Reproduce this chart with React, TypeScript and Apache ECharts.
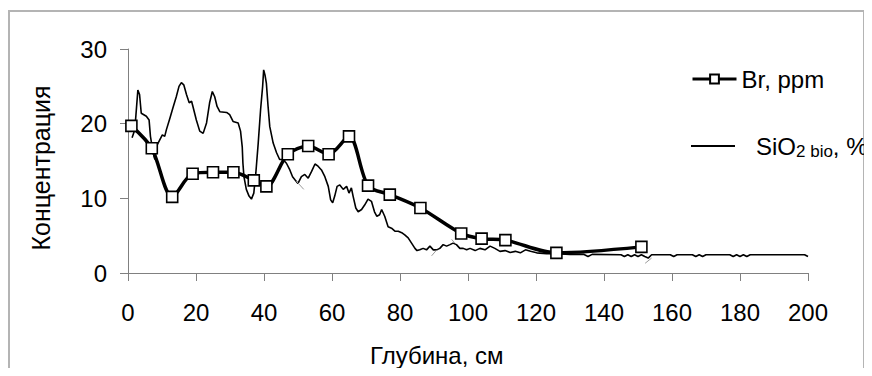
import React, { useEffect, useRef } from "react";
import * as echarts from "echarts";

// Depth (cm) and Br concentration (ppm)
const brDepth = [1, 7, 13, 19, 25, 31, 37, 40.7, 47, 53, 59, 65, 70.6, 77, 86, 98, 104, 111, 126, 151];
const brValue = [19.7, 16.7, 10.2, 13.3, 13.5, 13.5, 12.4, 11.6, 15.9, 17, 15.9, 18.3, 11.7, 10.5, 8.7, 5.3, 4.6, 4.4, 2.7, 3.5];

// Depth (cm) and biogenic silica (%)
const siDepth = [
  1.2, 2, 2.9, 3.4, 3.9, 5.4, 6.2, 6.6, 7.4, 7.9, 8.4, 9.3, 10.1, 10.8, 11.3, 12.3, 13.2, 14.2, 15, 15.7,
  16.4, 17.2, 18, 18.7, 19.1, 20.1, 21.1, 22.1, 23.1, 24, 24.8, 25.5, 26.2, 27, 29, 29.9, 30.9, 32.4, 33.1, 33.6,
  33.8, 34.1, 34.8, 35.6, 36.3, 37, 37.6, 38.3, 39, 39.6, 39.9, 40.3, 40.7, 41.2, 41.7, 42.7, 43.7, 44.6, 45.6, 46.6,
  47.6, 48.4, 49.1, 50, 51, 52, 53, 54, 55, 55.9, 56.9, 57.9, 58.9, 59.6, 60.2, 60.8, 61.5, 62.3, 63.3, 64.3,
  65, 65.7, 66.2, 67, 67.7, 68.7, 69.6, 70.6, 71.6, 72.5, 73.2, 74, 74.6, 75.5, 76.5, 77.5, 78.5, 79.5, 80.5, 81.4,
  82.4, 83.4, 84.4, 85, 85.8, 86.8, 87.8, 88.8, 89.8, 90.8, 91.7, 92.7, 93.7, 94.7, 95.6, 96.6, 97.6, 98.6, 99.6, 100.6,
  102.1, 103.5, 105, 106.5, 107.9, 109.4, 110.9, 112.4, 113.9, 115.4, 116.9, 118.4, 120.2, 123.1, 126, 130, 134, 135.3, 136.5, 145,
  146, 147, 148, 149, 150, 151, 152, 153, 154, 159.5, 160.5, 161.5, 166, 167, 168, 169, 170, 177, 178, 179,
  180, 181, 182, 183, 199, 200,
];
const siValue = [
  18.1, 19.2, 24.5, 23.9, 21.4, 21.0, 20.5, 18.3, 16.1, 15.2, 17, 17.8, 18.5, 18.3, 19.2, 20.7, 22.1, 23.6, 25, 25.5,
  25.2, 23.9, 22.8, 23, 22.3, 20.5, 19, 18.7, 20.1, 22.8, 24.3, 23.6, 22.3, 21.6, 21.5, 21.2, 20.3, 20.1, 19, 16.9,
  14.7, 12.9, 11.2, 10.3, 9.9, 10.7, 13.4, 17.4, 21.9, 25, 27.2, 26.5, 25.4, 22.3, 19.6, 17.4, 16.1, 15.2, 15.2, 14.7,
  13.8, 12.9, 12.5, 12, 12.9, 13.2, 12.7, 13.6, 14.6, 14.3, 13.8, 12.9, 11.6, 9.8, 9.4, 10.3, 11.6, 11.8, 11.2, 11.6,
  10.7, 11.4, 10.3, 8.7, 8.2, 8.5, 9.1, 9.9, 9.6, 8.2, 7.6, 7.8, 8.5, 7.6, 6.2, 6.0, 5.6, 5.6, 5.4, 5.1,
  4.7, 4.0, 3.3, 3.0, 3.1, 3.3, 3.1, 3.6, 3.1, 3.1, 3.3, 3.8, 3.6, 3.8, 4.0, 3.8, 3.3, 3.3, 3.1, 3.3,
  3.0, 3.3, 3.1, 3.6, 3.3, 2.9, 3.0, 2.75, 2.9, 2.7, 3.1, 2.9, 2.7, 2.6, 2.6, 2.5, 2.5, 2.2, 2.5, 2.45,
  2.2, 2.45, 2.2, 2.45, 2.2, 2.45, 2.2, 2.0, 2.45, 2.45, 2.2, 2.45, 2.45, 2.2, 2.45, 2.2, 2.45, 2.45, 2.2, 2.45,
  2.2, 2.45, 2.2, 2.45, 2.45, 2.2,
];

// Short light-grey strokes drawn over the curves: [x1, y1, x2, y2]
const greyStrokes = [
  [49.5, 12.3, 51.7, 11.2],
  [89.3, 2.3, 90.8, 3.1],
  [95.2, 4.5, 96.1, 4.0],
  [152.1, 1.3, 154.0, 2.0],
];

const xTicks = { min: 0, max: 200, step: 20 };
const yTicks = { min: 0, max: 30, step: 10 };

const FONT = "'Liberation Sans', Arial, sans-serif";
const FS = 24;

export default function App() {
  const ref = useRef<HTMLDivElement>(null);

  useEffect(() => {
    if (!ref.current) return;
    const chart = echarts.init(ref.current, undefined, { renderer: "svg" });

    const strokeData: (number[] | null)[] = [];
    greyStrokes.forEach((s, i) => {
      if (i > 0) strokeData.push(null);
      strokeData.push([s[0], s[1]]);
      strokeData.push([s[2], s[3]]);
    });

    const legendText = { fontSize: FS, fontFamily: FONT, color: "#000" };

    chart.setOption({
      animation: false,
      backgroundColor: "#ffffff",
      textStyle: { fontFamily: FONT, color: "#000" },
      grid: { left: 128, top: 49, width: 680, height: 224, containLabel: false },
      xAxis: {
        type: "value",
        min: xTicks.min,
        max: xTicks.max,
        interval: xTicks.step,
        axisLine: { show: true, lineStyle: { color: "#808080", width: 1 } },
        axisTick: { show: true, inside: false, length: 8, lineStyle: { color: "#808080" } },
        axisLabel: { color: "#000", fontSize: FS, fontFamily: FONT, margin: 27 },
        splitLine: { show: false },
      },
      yAxis: {
        type: "value",
        min: yTicks.min,
        max: yTicks.max,
        interval: yTicks.step,
        axisLine: { show: true, lineStyle: { color: "#808080", width: 1 } },
        axisTick: { show: true, inside: false, length: 8, lineStyle: { color: "#808080" } },
        axisLabel: { color: "#000", fontSize: FS, fontFamily: FONT, margin: 21 },
        splitLine: { show: false },
      },
      legend: [
        {
          left: 691,
          top: 67,
          padding: 0,
          itemWidth: 44,
          itemHeight: 11,
          itemGap: 6,
          selectedMode: false,
          lineStyle: { width: 3 },
          textStyle: legendText,
          data: ["Br, ppm"],
        },
        {
          left: 691,
          top: 134,
          padding: 0,
          itemWidth: 44,
          itemHeight: 2,
          itemGap: 6,
          selectedMode: false,
          icon: "rect",
          itemStyle: { color: "#000" },
          textStyle: {
            ...legendText,
            rich: {
              n: { fontSize: FS, fontFamily: FONT, color: "#000" },
              sub: { fontSize: 17, fontFamily: FONT, color: "#000", padding: [11, 0, 0, 0] },
              pad: { width: 16 },
            },
          },
          formatter: () => "{pad|}{n|SiO}{sub|2 bio}{n|, %}",
          data: ["SiO2"],
        },
      ],
      graphic: [
        {
          type: "rect",
          shape: { x: 9, y: 11, width: 855, height: 358 },
          style: { fill: "none", stroke: "#b4b4b4", lineWidth: 2 },
          silent: true,
        },
        {
          type: "text",
          x: 370,
          y: 355,
          style: {
            text: "Глубина, см",
            fontSize: FS,
            fontFamily: FONT,
            fill: "#000",
            textAlign: "left",
            textVerticalAlign: "middle",
          },
        },
        {
          type: "text",
          x: 41,
          y: 168,
          rotation: Math.PI / 2,
          style: {
            text: "Концентрация",
            fontSize: 25,
            fontFamily: FONT,
            fill: "#000",
            textAlign: "center",
            textVerticalAlign: "middle",
          },
        },
      ],
      series: [
        {
          name: "SiO2",
          type: "line",
          data: siDepth.map((d, i) => [d, siValue[i]]),
          showSymbol: false,
          symbol: "none",
          lineStyle: { color: "#000", width: 1.6 },
          itemStyle: { color: "#000" },
          z: 2,
        },
        {
          name: "Br, ppm",
          type: "line",
          data: brDepth.map((d, i) => [d, brValue[i]]),
          smooth: 0.3,
          symbol: "rect",
          symbolSize: 11,
          showSymbol: true,
          lineStyle: { color: "#000", width: 3.5 },
          itemStyle: { color: "#fff", borderColor: "#000", borderWidth: 1.6 },
          z: 3,
        },
        {
          name: "strokes",
          type: "line",
          data: strokeData,
          symbol: "none",
          connectNulls: false,
          lineStyle: { color: "#9a9a9a", width: 1 },
          z: 4,
        },
      ],
    });

    return () => chart.dispose();
  }, []);

  return <div ref={ref} style={{ width: 872, height: 376, margin: -8 }} />;
}
